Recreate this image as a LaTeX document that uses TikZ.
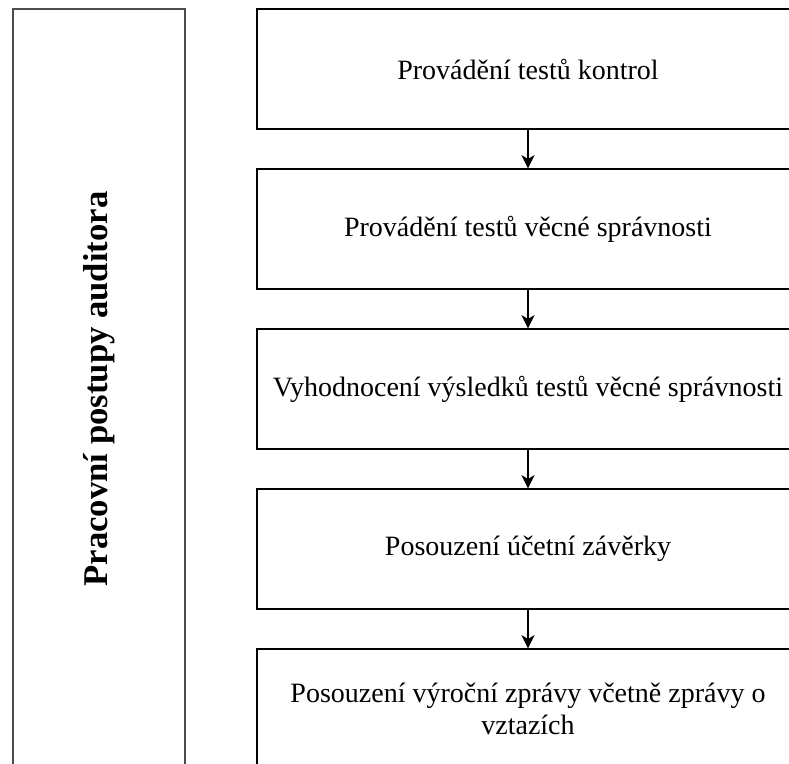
\documentclass[tikz,border=0pt]{standalone}
\usepackage{fontspec}
\setmainfont{Liberation Serif}
\usetikzlibrary{arrows.meta,positioning}
\tikzset{
  blk/.style={draw, line width=1pt, align=center, minimum width=406.5pt, minimum height=90pt, inner sep=0pt, font=\fontsize{21}{23.5}\selectfont},
  side/.style={draw=black!70, line width=1.2pt, align=center, font=\fontsize{26}{30}\selectfont\bfseries},
  arr/.style={-{Stealth[length=10pt, width=10pt, inset=3pt]}, line width=1pt}
}
\begin{document}
\begin{tikzpicture}[x=0.75pt, y=-0.75pt, node distance=29pt]
  \useasboundingbox (0,0) rectangle (789,764);
  \clip (0,0) rectangle (789,764);
  \node[side, rotate=90, minimum width=570pt, minimum height=129pt] (p) at (99,389) {Pracovní postupy auditora};
  \node[blk] (k) at (528,69) {Provádění testů kontrol};
  \node[blk, below=of k] (s) {Provádění testů věcné správnosti};
  \node[blk, below=of s] (v) {Vyhodnocení výsledků testů věcné správnosti};
  \node[blk, below=of v] (u) {Posouzení účetní závěrky};
  \node[blk, below=of u] (z) {Posouzení výroční zprávy včetně zprávy o\\vztazích};
  \draw[arr] (k) -- (s);
  \draw[arr] (s) -- (v);
  \draw[arr] (v) -- (u);
  \draw[arr] (u) -- (z);
\end{tikzpicture}
\end{document}
